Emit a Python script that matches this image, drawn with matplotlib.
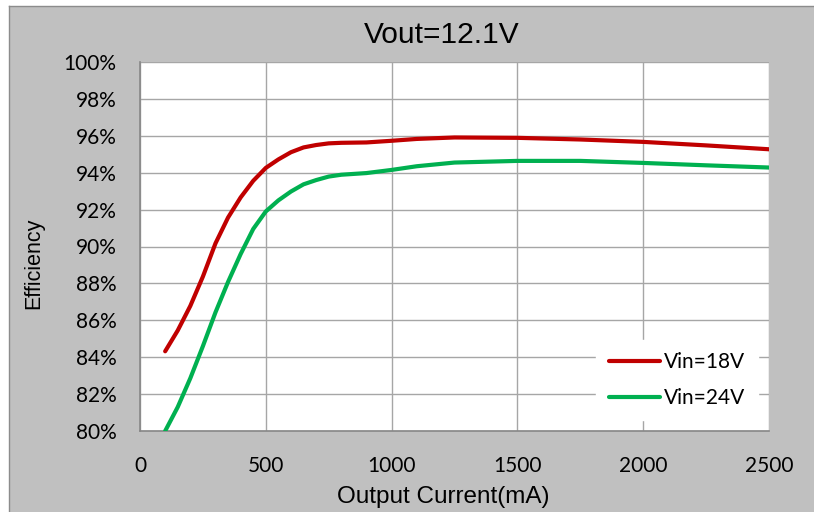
import matplotlib
matplotlib.use("Agg")
import matplotlib.pyplot as plt
from matplotlib.patches import Rectangle
from matplotlib.lines import Line2D
from matplotlib.ticker import FuncFormatter

#---- data
current = [100, 150, 200, 250, 300, 350, 400, 450, 500, 550, 600, 650, 700,
           750, 800, 900, 1000, 1100, 1250, 1500, 1750, 2000, 2250, 2500]
eff18 = [84.32, 85.45, 86.78, 88.37, 90.17, 91.57, 92.66, 93.56, 94.26, 94.72,
         95.11, 95.37, 95.5, 95.59, 95.62, 95.64, 95.73, 95.83, 95.91, 95.89,
         95.8, 95.67, 95.48, 95.27]
eff24 = [80.0, 81.3, 82.86, 84.6, 86.43, 88.08, 89.59, 90.95, 91.9, 92.5,
         92.98, 93.37, 93.6, 93.79, 93.89, 93.98, 94.15, 94.35, 94.55, 94.64,
         94.64, 94.53, 94.4, 94.28]
labels = ["Vin=18V", "Vin=24V"]
colors = ["#C00000", "#00B050"]

W, H = 814, 512
fig = plt.figure(figsize=(W / 100, H / 100), dpi=100, facecolor="white")

# gray chart area, border only on top and left
bg = Rectangle((9 / W, 0), 1, 1 - 6 / H, transform=fig.transFigure,
               facecolor="#C0C0C0", edgecolor="none", zorder=-10)
fig.patches.append(bg)
fig.lines.append(Line2D([9 / W, 1], [1 - 6 / H, 1 - 6 / H], transform=fig.transFigure,
                        color="#8C8C8C", lw=1.0))
fig.lines.append(Line2D([9 / W, 9 / W], [0, 1 - 6 / H], transform=fig.transFigure,
                        color="#8C8C8C", lw=1.0))

ax = fig.add_axes([140 / W, 1 - 431 / H, (769 - 140) / W, (431 - 62) / H])
ax.set_facecolor("white")

for y, c, lab in [(eff18, colors[0], labels[0]), (eff24, colors[1], labels[1])]:
    ax.plot(current, y, color=c, lw=3, solid_capstyle="round",
            solid_joinstyle="round", label=lab, zorder=3)

ax.set_xlim(0, 2500)
ax.set_ylim(80, 100)
ax.set_xticks(range(0, 2501, 500))
ax.set_yticks(range(80, 101, 2))
ax.yaxis.set_major_formatter(FuncFormatter(lambda v, p: "%d%%" % v))

ax.grid(True, color="#A6A6A6", lw=1.0)
ax.set_axisbelow(True)
for s in ["top", "right"]:
    ax.spines[s].set_visible(False)
for s in ["left", "bottom"]:
    ax.spines[s].set_color("#878787")
    ax.spines[s].set_linewidth(1.2)

ax.tick_params(length=0, labelsize=15, colors="black")
ax.tick_params(axis="y", pad=17)
ax.tick_params(axis="x", pad=18)
for t in ax.get_xticklabels() + ax.get_yticklabels():
    t.set_fontfamily("Lato")

fig.text(442 / W, 1 - 35 / H, "Vout=12.1V", ha="center", va="center",
         fontsize=21.5, family="Liberation Sans")
fig.text(34 / W, 1 - 263 / H, "Efficiency", ha="center", va="center",
         rotation=90, fontsize=15.5, family="Liberation Sans")
fig.text(443 / W, 1 - 497 / H, "Output Current(mA)", ha="center", va="center",
         fontsize=17.5, family="Liberation Sans")

leg = ax.legend(loc="center", bbox_to_anchor=(677 / W, 1 - 380 / H),
                bbox_transform=fig.transFigure, frameon=True, fancybox=False,
                handlelength=2.45, handletextpad=0.2, labelspacing=0.75,
                borderpad=0.6, prop={"family": "Lato", "size": 15})
leg.get_frame().set_facecolor("white")
leg.get_frame().set_edgecolor("white")
leg.get_frame().set_alpha(1)

fig.savefig("out.png", dpi=100, facecolor=fig.get_facecolor())
